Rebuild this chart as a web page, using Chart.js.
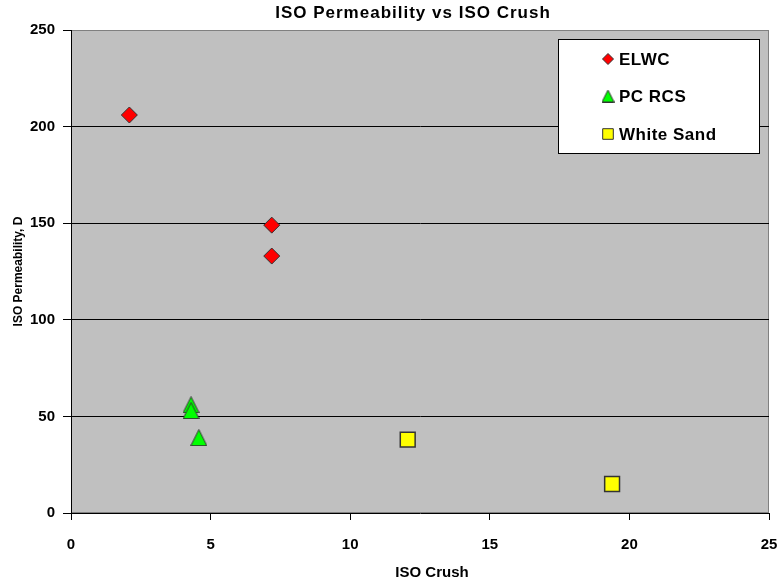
<!DOCTYPE html>
<html>
<head>
<meta charset="utf-8">
<script src="https://cdn.jsdelivr.net/npm/chart.js@4/dist/chart.umd.min.js"></script>
<style>
  html, body { margin: 0; padding: 0; background: #ffffff; }
  #wrap { width: 781px; height: 585px; }
</style>
</head>
<body>
<div id="wrap"><canvas id="c" width="781" height="585"></canvas></div>
<script>
// ISO crush (x) and ISO permeability in darcies (y) for each proppant
const seriesNames = ['ELWC', 'PC RCS', 'White Sand'];
const elwcCrush = [2.09, 7.19, 7.19];
const elwcPerm = [206, 149, 133];
const pcrcsCrush = [4.3, 4.3, 4.58];
const pcrcsPerm = [56, 53, 39];
const sandCrush = [12.06, 19.38];
const sandPerm = [38, 15];
const xTicks = [0, 5, 10, 15, 20, 25];
const yTicks = [0, 50, 100, 150, 200, 250];

const sans = "'Liberation Sans', Arial, sans-serif";

function pts(xs, ys) { return xs.map((x, i) => ({ x: x, y: ys[i] })); }

// Triangle marker whose box is centred on the point, as wide as it is tall
function triangleMarker(size, fill, stroke) {
  const cv = document.createElement('canvas');
  cv.width = size; cv.height = size;
  const g = cv.getContext('2d');
  g.beginPath();
  g.moveTo(size / 2, 0.5);
  g.lineTo(size - 0.5, size - 0.5);
  g.lineTo(0.5, size - 0.5);
  g.closePath();
  g.fillStyle = fill;
  g.fill();
  g.strokeStyle = stroke;
  g.lineWidth = 1;
  g.stroke();
  return cv;
}
const triBig = triangleMarker(17, '#00ff00', '#333333');
const triSmall = triangleMarker(13, '#00ff00', '#333333');

const plotBackground = {
  id: 'plotBackground',
  beforeDraw(chart) {
    const { ctx, chartArea: a } = chart;
    ctx.save();
    ctx.fillStyle = '#c0c0c0';
    ctx.fillRect(a.left, a.top, a.right - a.left, a.bottom - a.top);
    ctx.strokeStyle = '#808080';
    ctx.lineWidth = 1;
    ctx.strokeRect(a.left + 0.5, a.top + 0.5, a.right - a.left - 1, a.bottom - a.top - 1);
    ctx.restore();
  }
};

// Chart heading and x-axis caption
const chartTexts = {
  id: 'chartTexts',
  afterDraw(chart) {
    const { ctx } = chart;
    ctx.save();
    ctx.fillStyle = '#000';
    ctx.textAlign = 'center';
    ctx.textBaseline = 'middle';
    ctx.font = 'bold 17px ' + sans;
    ctx.letterSpacing = '1px';
    ctx.fillText('ISO Permeability vs ISO Crush', 413, 13);
    ctx.letterSpacing = '0px';
    ctx.font = 'bold 15px ' + sans;
    ctx.fillText('ISO Crush', 432, 573);
    ctx.restore();
  }
};

// Boxed legend inside the upper right of the plot
const boxLegend = {
  id: 'boxLegend',
  afterDatasetsDraw(chart) {
    const { ctx } = chart;
    const left = 558, top = 39, w = 202, h = 115;
    ctx.save();
    ctx.fillStyle = '#ffffff';
    ctx.fillRect(left, top, w, h);
    ctx.strokeStyle = '#000';
    ctx.lineWidth = 1;
    ctx.strokeRect(left + 0.5, top + 0.5, w - 1, h - 1);
    const rows = [59, 96, 134];
    chart.data.datasets.forEach((ds, i) => {
      const y = rows[i];
      ctx.fillStyle = ds.backgroundColor;
      ctx.strokeStyle = ds.borderColor;
      ctx.lineWidth = 1;
      Chart.helpers.drawPoint(ctx, {
        pointStyle: ds.legendStyle,
        radius: ds.legendRadius,
        borderWidth: 1,
        rotation: 0
      }, 608, y);
      ctx.fillStyle = '#000';
      ctx.font = 'bold 17px ' + sans;
      ctx.letterSpacing = '0.5px';
      ctx.textAlign = 'left';
      ctx.textBaseline = 'middle';
      ctx.fillText(ds.label, 619, y + 1);
      ctx.letterSpacing = '0px';
    });
    ctx.restore();
  }
};

new Chart(document.getElementById('c'), {
  type: 'scatter',
  data: {
    datasets: [
      {
        label: seriesNames[0],
        data: pts(elwcCrush, elwcPerm),
        pointStyle: 'rectRot',
        legendStyle: 'rectRot',
        pointRadius: 8,
        legendRadius: 5.5,
        backgroundColor: '#ff0000',
        borderColor: '#333333',
        borderWidth: 1
      },
      {
        label: seriesNames[1],
        data: pts(pcrcsCrush, pcrcsPerm),
        pointStyle: triBig,
        legendStyle: triSmall,
        pointRadius: 9,
        legendRadius: 7,
        backgroundColor: '#00ff00',
        borderColor: '#333333',
        borderWidth: 1
      },
      {
        label: seriesNames[2],
        data: pts(sandCrush, sandPerm),
        pointStyle: 'rect',
        legendStyle: 'rect',
        pointRadius: 10.5,
        legendRadius: 7.5,
        backgroundColor: '#ffff00',
        borderColor: '#333333',
        borderWidth: 1.5
      }
    ]
  },
  options: {
    responsive: false,
    animation: false,
    devicePixelRatio: 1,
    layout: { padding: { top: 30, right: 12, left: 0, bottom: 0 } },
    plugins: {
      legend: { display: false },
      title: { display: false },
      tooltip: { enabled: false }
    },
    scales: {
      x: {
        type: 'linear',
        min: 0, max: 25,
        afterFit(s) { s.height = 72; s.paddingLeft = 0; s.paddingRight = 0; },
        afterBuildTicks(s) { s.ticks = xTicks.map(v => ({ value: v })); },
        border: { display: true, color: '#000', width: 1 },
        grid: { drawOnChartArea: false, drawTicks: true, tickLength: 7, tickColor: '#000' },
        ticks: {
          color: '#000', padding: 16,
          font: { family: sans, size: 15, weight: 'bold' }
        },
        title: { display: false }
      },
      y: {
        type: 'linear',
        min: 0, max: 250,
        afterFit(s) { s.width = 71; s.paddingTop = 0; s.paddingBottom = 0; },
        afterBuildTicks(s) { s.ticks = yTicks.map(v => ({ value: v })); },
        border: { display: true, color: '#000', width: 1 },
        grid: {
          drawTicks: true, tickLength: 8, tickColor: '#000', lineWidth: 1,
          color: (c) => (c.tick && (c.tick.value === 250 || c.tick.value === 0)) ? 'rgba(0,0,0,0)' : '#000'
        },
        ticks: {
          color: '#000', padding: 8,
          font: { family: sans, size: 15, weight: 'bold' }
        },
        title: {
          display: true, text: 'ISO Permeability, D', color: '#000',
          font: { family: sans, size: 12, weight: 'bold' },
          padding: { top: 11, bottom: 0 }
        }
      }
    }
  },
  plugins: [plotBackground, chartTexts, boxLegend]
});
</script>
</body>
</html>
